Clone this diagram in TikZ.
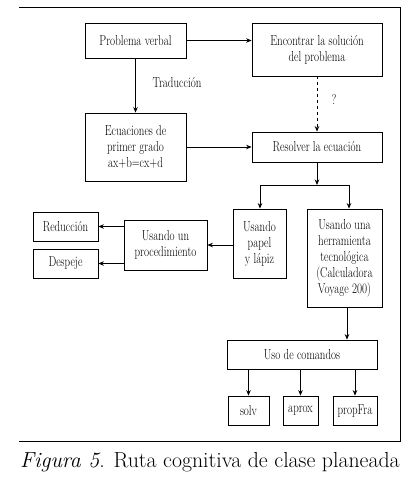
\documentclass[tikz,border=0pt]{standalone}
\usepackage{fontspec}
\newfontfamily\boxfont[FakeStretch=0.76]{Latin Modern Roman}
\usetikzlibrary{arrows.meta}
\tikzset{
  box/.style={draw, line width=0.8pt, align=center, inner sep=0pt,
    font=\boxfont\fontsize{14.4}{16}\selectfont},
  conn/.style={line width=0.8pt, -{Stealth[length=5.5pt,width=4.5pt]}},
  plain/.style={line width=0.8pt},
  lbl/.style={font=\boxfont\fontsize{14.4}{16}\selectfont, inner sep=0pt}
}
\begin{document}
\begin{tikzpicture}[x=1pt,y=-1pt]
\useasboundingbox (0,0) rectangle (408,483);
% frame
\draw[plain] (19,7) -- (400,7) -- (400,441) -- (19,441);
% nodes
\node[box, minimum width=101pt, minimum height=35pt] (pv) at (135.5,40.5) {Problema verbal};
\node[box, minimum width=130pt, minimum height=53pt] (enc) at (317,49.5) {Encontrar la solución\\del problema};
\node[box, minimum width=101pt, minimum height=68pt] (ecu) at (135.5,147) {Ecuaciones de\\primer grado\\ax+b=cx+d};
\node[box, minimum width=130pt, minimum height=30pt] (res) at (317,147) {Resolver la ecuación};
\node[box, minimum width=53pt, minimum height=69pt] (papel) at (259.5,243.5) {Usando\\papel\\y lápiz};
\node[box, minimum width=75pt, minimum height=98pt] (herr) at (344.5,258) {Usando una\\herramienta\\tecnológica\\(Calculadora\\Voyage 200)};
\node[box, minimum width=83pt, minimum height=50pt] (proc) at (165.5,245) {Usando un\\procedimiento};
\node[box, minimum width=65pt, minimum height=29pt] (red) at (65.5,226.5) {Reducción};
\node[box, minimum width=65pt, minimum height=29pt] (desp) at (65.5,263.5) {Despeje};
\node[box, minimum width=150pt, minimum height=29pt] (uso) at (302,354.5) {Uso de comandos};
\node[box, minimum width=41pt, minimum height=29pt] (solv) at (248.5,410.5) {solv};
\node[box, minimum width=35pt, minimum height=29pt] (aprox) at (300.5,410.5) {aprox};
\node[box, minimum width=44pt, minimum height=29pt] (prop) at (355,410.5) {propFra};
% labels
\node[lbl] (trad) at (177,83) {Traducción};
\node[lbl] (q) at (334,99) {?};
% connectors
\draw[conn] (pv.east) -- (pv.east -| enc.west);
\draw[conn] (pv.south) -- (ecu.north);
\draw[conn, dashed] (enc.south) -- (res.north);
\draw[conn] (ecu.east) -- (res.west);
\coordinate (split) at (317,185);
\coordinate (bl) at (260,185);
\coordinate (br) at (349,185);
\draw[conn] (res.south) -- (split);
\draw[plain] (bl) -- (br);
\draw[conn] (bl) -- (bl |- papel.north);
\draw[conn] (br) -- (br |- herr.north);
\draw[conn] (proc.east -| papel.west) -- (proc.east);
\draw[conn] (red.east -| proc.west) -- (red.east);
\draw[conn] (desp.east -| proc.west) -- (desp.east);
\coordinate (hd) at (347,307);
\draw[conn] (hd) -- (hd |- uso.north);
\draw[conn] (solv.north |- uso.south) -- (solv.north);
\draw[conn] (aprox.north |- uso.south) -- (aprox.north);
\draw[conn] (prop.north |- uso.south) -- (prop.north);
% caption
\node[inner sep=0pt, font=\fontsize{21.8}{26}\selectfont] (cap) at (210,462) {\textit{Figura 5}. Ruta cognitiva de clase planeada};
\end{tikzpicture}
\end{document}
